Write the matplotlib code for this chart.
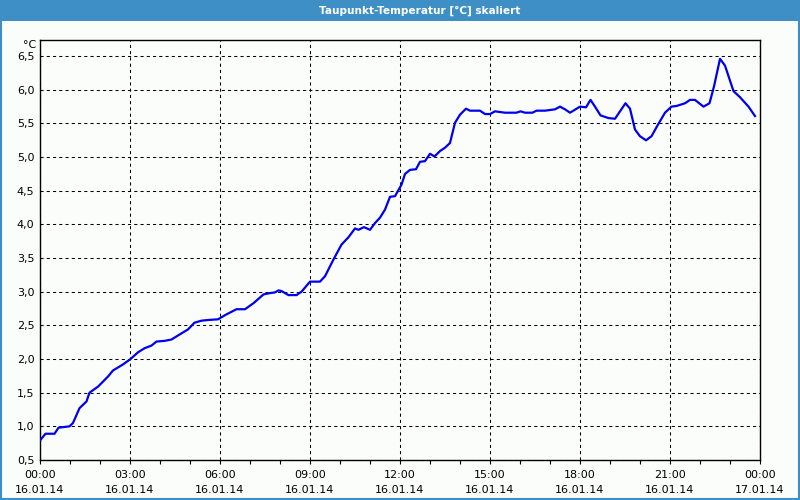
import matplotlib
matplotlib.use('Agg')
import matplotlib.pyplot as plt
from matplotlib.patches import Rectangle
import numpy as np

# minutes after 16.01.14 00:00 and dew point in degC
minutes = [1, 11, 29, 37, 59, 66, 79, 93, 99, 116, 136, 146, 166, 181, 196, 209,
           223, 233, 249, 263, 276, 296, 309, 323, 336, 356, 372, 393, 410, 427,
           447, 460, 470, 477, 483, 497, 513, 523, 540, 560, 570, 587, 603, 617,
           630, 637, 648, 660, 670, 680, 690, 700, 710, 723, 730, 740, 752, 760,
           770, 780, 789, 800, 810, 820, 830, 840, 852, 860, 880, 890, 900, 910,
           930, 953, 961, 970, 985, 993, 1010, 1030, 1040, 1050, 1060, 1080, 1092,
           1101, 1110, 1121, 1137, 1150, 1160, 1171, 1180, 1190, 1200, 1212, 1223,
           1235, 1250, 1263, 1273, 1290, 1300, 1310, 1327, 1339, 1348, 1360, 1370,
           1387, 1400, 1417, 1430]
taupunkt = [0.80, 0.89, 0.89, 0.98, 1.00, 1.05, 1.27, 1.37, 1.50, 1.59, 1.74, 1.83,
            1.92, 2.00, 2.10, 2.16, 2.20, 2.26, 2.27, 2.29, 2.35, 2.44, 2.54, 2.57,
            2.58, 2.59, 2.66, 2.74, 2.74, 2.83, 2.96, 2.98, 2.99, 3.02, 3.01, 2.95,
            2.95, 3.00, 3.15, 3.15, 3.23, 3.48, 3.70, 3.81, 3.94, 3.92, 3.96, 3.92,
            4.02, 4.10, 4.22, 4.41, 4.42, 4.59, 4.75, 4.81, 4.82, 4.93, 4.94, 5.05,
            5.01, 5.09, 5.14, 5.21, 5.51, 5.63, 5.72, 5.69, 5.69, 5.64, 5.64, 5.68,
            5.66, 5.66, 5.68, 5.66, 5.66, 5.69, 5.69, 5.71, 5.75, 5.71, 5.66, 5.75,
            5.74, 5.85, 5.75, 5.62, 5.58, 5.57, 5.68, 5.80, 5.72, 5.41, 5.31, 5.25,
            5.31, 5.47, 5.66, 5.75, 5.76, 5.80, 5.85, 5.85, 5.75, 5.80, 6.05, 6.46,
            6.36, 5.98, 5.89, 5.75, 5.61]

y_ticks = [0.5, 1.0, 1.5, 2.0, 2.5, 3.0, 3.5, 4.0, 4.5, 5.0, 5.5, 6.0, 6.5]
x_major = [0, 3, 6, 9, 12, 15, 18, 21, 24]
x_labels = ['00:00\n16.01.14', '03:00\n16.01.14', '06:00\n16.01.14', '09:00\n16.01.14',
            '12:00\n16.01.14', '15:00\n16.01.14', '18:00\n16.01.14', '21:00\n16.01.14',
            '00:00\n17.01.14']
title = 'Taupunkt-Temperatur [°C] skaliert'

bar_blue = '#3d8fc6'

fig = plt.figure(figsize=(8, 5), dpi=100, facecolor='#fbfdfb')

# title bar and frame
fig.patches.append(Rectangle((0, 0.958), 1, 0.042, transform=fig.transFigure,
                             facecolor=bar_blue, edgecolor='none', zorder=0))
fig.patches.append(Rectangle((0.001, 0.002), 0.998, 0.997, transform=fig.transFigure,
                             facecolor='none', edgecolor=bar_blue, lw=1.5, zorder=1))
fig.text(0.524, 0.979, title, color='white', ha='center', va='center',
         fontsize=7.6, fontweight='bold')

ax = fig.add_axes([0.05, 0.08, 0.90, 0.84])
ax.set_facecolor('#fbfdfb')

hours = np.array(minutes) / 60.0
ax.plot(hours, taupunkt, color='#0000ee', lw=1.6, zorder=3)

ax.set_xlim(0, 24)
ax.set_ylim(0.5, 6.74)
ax.set_xticks(x_major)
ax.set_xticklabels(x_labels, fontsize=8, linespacing=1.6)
ax.set_xticks(np.arange(0, 25, 1), minor=True)
ax.set_yticks(y_ticks)
ax.set_yticklabels([('%.1f' % v).replace('.', ',') for v in y_ticks], fontsize=8)
ax.tick_params(axis='x', which='both', direction='out', length=3, width=0.8, pad=4)
ax.tick_params(axis='y', length=0, pad=4)

ax.grid(True, which='major', color='black', linestyle=(0, (3, 3)), lw=0.75)
for s in ax.spines.values():
    s.set_color('black')
    s.set_linewidth(1.0)

ax.text(-0.005, 1.0, '°C', transform=ax.transAxes, ha='right', va='top', fontsize=8)

plt.savefig('out.png', dpi=100, facecolor=fig.get_facecolor())
